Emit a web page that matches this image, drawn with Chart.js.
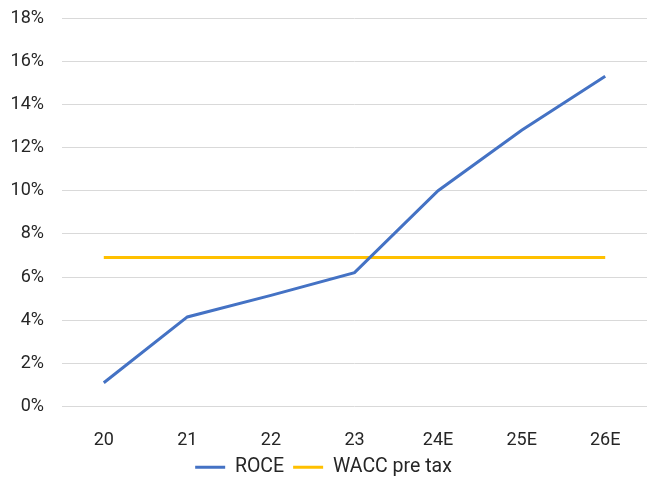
<!DOCTYPE html>
<html>
<head>
<meta charset="utf-8">
<script src="https://cdn.jsdelivr.net/npm/chart.js@4/dist/chart.umd.min.js"></script>
<style>
  html, body { margin: 0; padding: 0; background: #ffffff; }
  #wrap { width: 647px; height: 479px; }
</style>
</head>
<body>
<div id="wrap"><canvas id="c" width="647" height="479"></canvas></div>
<script>
// Return on capital employed vs. pre-tax WACC, in percent
const categories = ['20', '21', '22', '23', '24E', '25E', '26E'];
const roce = [1.1, 4.15, 5.15, 6.2, 10.0, 12.8, 15.3];
const waccPreTax = [6.9, 6.9, 6.9, 6.9, 6.9, 6.9, 6.9];
const yTicks = [0, 2, 4, 6, 8, 10, 12, 14, 16, 18];

const BLUE = '#4472C4';
const GOLD = '#FFC000';
const TEXT = '#262626';
const GRID = '#d9d9d9';
const FONT = { family: 'Roboto', size: 18 };
const LEGEND_FONT = { family: 'Roboto', size: 19.5 };

new Chart(document.getElementById('c'), {
  type: 'line',
  data: {
    labels: categories,
    datasets: [
      { label: 'ROCE', data: roce, borderColor: BLUE, backgroundColor: BLUE,
        borderWidth: 3, pointRadius: 0, tension: 0 },
      { label: 'WACC pre tax', data: waccPreTax, borderColor: GOLD, backgroundColor: GOLD,
        borderWidth: 3, pointRadius: 0, tension: 0 }
    ]
  },
  options: {
    responsive: false,
    animation: false,
    layout: { padding: { top: 18, right: 0, left: 0, bottom: -8 } },
    plugins: {
      tooltip: { enabled: false },
      legend: {
        position: 'bottom',
        labels: {
          color: TEXT,
          font: LEGEND_FONT,
          boxWidth: 30,
          boxHeight: 3,
          padding: 9,
          generateLabels(chart) {
            const items = Chart.defaults.plugins.legend.labels.generateLabels(chart);
            items.forEach(it => { it.lineWidth = 0; });
            return items;
          }
        }
      }
    },
    scales: {
      x: {
        offset: true,
        grid: { display: false },
        border: { display: false },
        ticks: { color: TEXT, font: FONT, padding: 15, maxRotation: 0 },
        afterFit(scale) { scale.height = 42; }
      },
      y: {
        min: 0,
        max: 18,
        afterBuildTicks(scale) { scale.ticks = yTicks.map(v => ({ value: v })); },
        grid: { color: GRID, lineWidth: 1, drawTicks: false },
        border: { display: false },
        ticks: { color: TEXT, font: FONT, padding: 18, callback: v => v + '%' },
        afterFit(scale) { scale.width = 62; scale.paddingTop = 0; scale.paddingBottom = 0; }
      }
    }
  }
});
</script>
</body>
</html>
